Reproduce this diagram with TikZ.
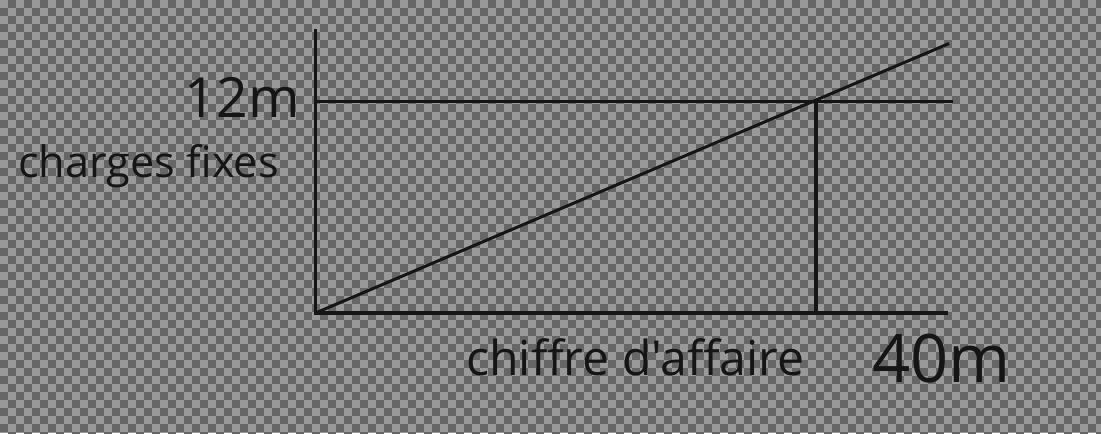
\documentclass[tikz,border=0pt]{standalone}
\usepackage{fontspec}
\newfontfamily\labelfont{Open Sans}
\begin{document}
\begin{tikzpicture}[x=0.5pt, y=-0.5pt]

\definecolor{checklight}{HTML}{999999}
\definecolor{checkdark}{HTML}{666666}
\definecolor{ink}{HTML}{151515}
\tikzset{
    axis/.style={draw=ink, line width=1.75pt},
    guide/.style={draw=ink, line width=1.25pt},
    label/.style={text=ink, inner sep=0pt, font=\labelfont}
}
\useasboundingbox (0,0) rectangle (1101,433);
% checkerboard background
\fill[checklight] (0,0) rectangle (1101,433);
\foreach \j in {0,...,54} {
    \pgfmathsetmacro{\phase}{mod(\j,2)==0 ? 4 : 0}
    \draw[checkdark, line width=4pt, dash pattern=on 4pt off 4pt, dash phase=\phase pt]
        (0,8*\j+4) -- (1101,8*\j+4);
}

\coordinate (O) at (315.5,313);
\coordinate (ytop) at (315.5,29);
\coordinate (xend) at (948,313);
\coordinate (fixl) at (315.5,101.5);
\coordinate (fixr) at (952.5,101.5);
\coordinate (ca) at (949,43.5);
\coordinate (pm) at (815.5,100.5);
\coordinate (pmfoot) at (815.5,313);

\draw[axis] (ytop) -- (O);
\draw[axis, line width=2.2pt] (314,313) -- (xend);
\draw[guide] (fixl) -- (fixr);
\draw[axis, line width=1.5pt] (O) -- (ca);
\draw[axis, line width=2pt] (pm) -- (pmfoot);

\node[label, anchor=base east] (douze) at (300,118) {\fontsize{27.7}{30}\selectfont 12m};
\node[label, anchor=base west] (charges) at (18,177) {\fontsize{21.6}{24}\selectfont charges fixes};
\node[label, anchor=base west] (chiffre) at (466,375) {\fontsize{24.1}{26}\selectfont chiffre d'affaire};
\node[label, anchor=base west] (quarante) at (872,382) {\fontsize{33.4}{36}\selectfont 40m};
\end{tikzpicture}
\end{document}
